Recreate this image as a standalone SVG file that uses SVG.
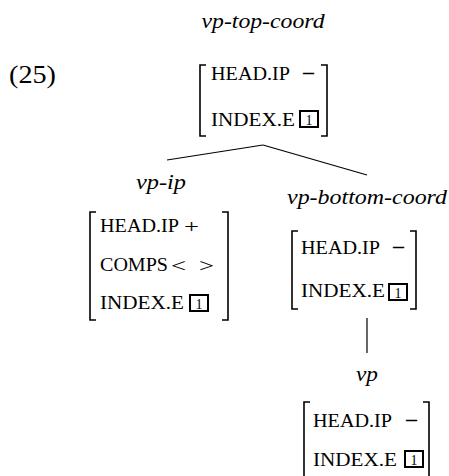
<svg xmlns="http://www.w3.org/2000/svg" width="449" height="476" viewBox="0 0 449 476">
<style>
text{font-family:"Liberation Serif","Times New Roman",Times,"DejaVu Serif",serif;fill:#000}
.lbl{font-style:italic;font-size:21px;text-anchor:middle}
.ft{font-size:18px}
.mn{font-size:20px;stroke:#000;stroke-width:0.4}
.num{font-size:14px;text-anchor:middle}
.br{fill:none;stroke:#000;stroke-width:1.6}
.tag{fill:none;stroke:#000;stroke-width:2}
.edge{fill:none;stroke:#000;stroke-width:1.2}
</style>
<rect width="449" height="476" fill="#fff"/>
<text x="9" y="83" font-size="25" textLength="47" lengthAdjust="spacingAndGlyphs">(25)</text>
<g id="connectors">
<line class="edge" x1="263" y1="145" x2="167" y2="160"/>
<line class="edge" x1="263" y1="145" x2="367" y2="175"/>
<line class="edge" x1="367" y1="318" x2="367" y2="353"/>
</g>
<g id="vp-top-coord">
<text class="lbl" x="263" y="28" textLength="123" lengthAdjust="spacingAndGlyphs">vp-top-coord</text>
<path class="br" d="M206,65 H200 V136 H206 M321,65 H327 V136 H321"/>
<text class="ft" x="211" y="80" textLength="79" lengthAdjust="spacingAndGlyphs">HEAD.IP</text>
<text class="mn" x="302" y="80" textLength="13" lengthAdjust="spacingAndGlyphs">−</text>
<text class="ft" x="211" y="126" textLength="84" lengthAdjust="spacingAndGlyphs">INDEX.E</text>
<rect class="tag" x="300" y="111" width="18" height="16"/>
<text class="num" x="309" y="124.5">1</text>
</g>
<g id="vp-ip">
<text class="lbl" x="161" y="189" textLength="50" lengthAdjust="spacingAndGlyphs">vp-ip</text>
<path class="br" d="M96,212 H90 V320 H96 M222,212 H228 V320 H222"/>
<text class="ft" x="100" y="232" textLength="79" lengthAdjust="spacingAndGlyphs">HEAD.IP</text>
<text class="ft" x="184" y="233" font-size="21" textLength="15" lengthAdjust="spacingAndGlyphs">+</text>
<text class="ft" x="100" y="271" textLength="68" lengthAdjust="spacingAndGlyphs">COMPS</text>
<text class="ft" x="171" y="272" font-size="21" textLength="15" lengthAdjust="spacingAndGlyphs">&lt;</text>
<text class="ft" x="199" y="272" font-size="21" textLength="15" lengthAdjust="spacingAndGlyphs">&gt;</text>
<text class="ft" x="100" y="309" textLength="84" lengthAdjust="spacingAndGlyphs">INDEX.E</text>
<rect class="tag" x="190" y="295" width="18" height="16"/>
<text class="num" x="199" y="308.5">1</text>
</g>
<g id="vp-bottom-coord">
<text class="lbl" x="367" y="204" textLength="160" lengthAdjust="spacingAndGlyphs">vp-bottom-coord</text>
<path class="br" d="M298,231 H292 V309 H298 M410,231 H416 V309 H410"/>
<text class="ft" x="301" y="254" textLength="79" lengthAdjust="spacingAndGlyphs">HEAD.IP</text>
<text class="mn" x="392" y="254" textLength="13" lengthAdjust="spacingAndGlyphs">−</text>
<text class="ft" x="301" y="297" textLength="84" lengthAdjust="spacingAndGlyphs">INDEX.E</text>
<rect class="tag" x="389" y="284" width="18" height="16"/>
<text class="num" x="398" y="297.5">1</text>
</g>
<g id="vp">
<text class="lbl" x="367" y="381" textLength="22" lengthAdjust="spacingAndGlyphs">vp</text>
<path class="br" d="M310,402 H304 V478 M423,402 H429 V478"/>
<text class="ft" x="313" y="427" textLength="79" lengthAdjust="spacingAndGlyphs">HEAD.IP</text>
<text class="mn" x="405" y="427" textLength="13" lengthAdjust="spacingAndGlyphs">−</text>
<text class="ft" x="313" y="466" textLength="84" lengthAdjust="spacingAndGlyphs">INDEX.E</text>
<rect class="tag" x="405" y="451" width="18" height="16"/>
<text class="num" x="414" y="464.5">1</text>
</g>
</svg>
